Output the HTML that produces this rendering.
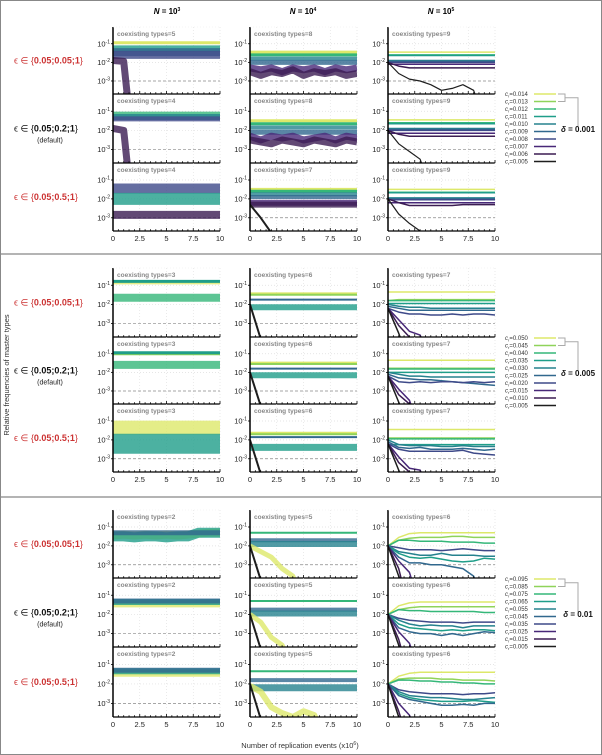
<!DOCTYPE html>
<html><head><meta charset="utf-8"><style>
html,body{margin:0;padding:0;background:#fff;}
svg{display:block;font-family:"Liberation Sans","DejaVu Sans",sans-serif;}
</style></head><body>
<svg id="fig" width="602" height="755" viewBox="0 0 602 755" xmlns="http://www.w3.org/2000/svg">
<rect x="0.5" y="0.5" width="601" height="754" fill="#fff" stroke="#888"/>
<line x1="0" y1="254" x2="602" y2="254" stroke="#888" stroke-width="1.2"/>
<line x1="0" y1="497" x2="602" y2="497" stroke="#888" stroke-width="1.2"/>
<text x="167" y="14" font-size="8" font-weight="bold" text-anchor="middle"><tspan font-style="italic">N</tspan> = 10<tspan font-size="5" dy="-3">3</tspan></text>
<text x="303" y="14" font-size="8" font-weight="bold" text-anchor="middle"><tspan font-style="italic">N</tspan> = 10<tspan font-size="5" dy="-3">4</tspan></text>
<text x="441" y="14" font-size="8" font-weight="bold" text-anchor="middle"><tspan font-style="italic">N</tspan> = 10<tspan font-size="5" dy="-3">5</tspan></text>
<text transform="translate(9,375) rotate(-90)" font-size="7.5" fill="#333" text-anchor="middle">Relative frequencies of master types</text>
<text x="300" y="748" font-size="7.5" fill="#333" text-anchor="middle">Number of replication events (x10<tspan font-size="5" dy="-3">6</tspan><tspan dy="3">)</tspan></text>
<g id="plots"></g>
</svg>
<script>
// ---- data (log10 of relative frequency; null = extinct) ----
const xTicks = [0, 2.5, 5, 7.5, 10];
const xTickLabels = ["0", "2.5", "5", "7.5", "10"];
const yTicks = [-1, -2, -3];
const yTickLabels = ["-1", "-2", "-3"];
const coexisting = [[5,8,9],[4,8,9],[4,7,9],[3,6,7],[3,6,7],[3,6,7],[2,5,6],[2,5,6],[2,5,6]];
const legend1 = ["0.014","0.013","0.012","0.011","0.010","0.009","0.008","0.007","0.006","0.005"];
const legend2 = ["0.050","0.045","0.040","0.035","0.030","0.025","0.020","0.015","0.010","0.005"];
const legend3 = ["0.095","0.085","0.075","0.065","0.055","0.045","0.035","0.025","0.015","0.005"];
const deltas = ["0.001","0.005","0.01"];
const rowLabels = ["0.05;0.05;1","0.05;0.2;1","0.05;0.5;1"];
const N=null;
function flat(v){return [v,v,v,v,v,v,v,v,v,v,v];}
// each series: [colorIndex, bandWidth, values at x=0..10]
const s1c1r1 = [[9,3,flat(-0.95)],[6,6,flat(-1.25)],[4,8,flat(-1.45)],[3,8,flat(-1.6)],[1,7,[-1.9,-1.95,N,N,N,N,N,N,N,N,N]]];
const s1c1r2 = [[7,5,flat(-1.15)],[5,6,flat(-1.3)],[3,5,flat(-1.4)],[1,7,[-1.9,-2.0,N,N,N,N,N,N,N,N,N]]];
const s1c1r3 = [[3,10,flat(-1.45)],[6,12,flat(-2.0)],[1,8,flat(-2.85)]];
const s1c2r1 = [[9,3,flat(-1.45)],[7,3,flat(-1.6)],[5,4,flat(-1.8)],[4,5,flat(-2.0)],[2,7,[-2.3,-2.4,-2.3,-2.5,-2.3,-2.4,-2.3,-2.5,-2.3,-2.4,-2.3]],[1,7,[-2.5,-2.7,-2.5,-2.6,-2.4,-2.7,-2.5,-2.6,-2.5,-2.7,-2.6]]];
const s1c2r2 = [[9,3,flat(-1.5)],[7,3,flat(-1.65)],[5,4,flat(-1.85)],[4,5,flat(-2.1)],[2,7,[-2.3,-2.5,-2.3,-2.4,-2.3,-2.5,-2.4,-2.3,-2.5,-2.3,-2.4]],[1,7,[-2.5,-2.6,-2.7,-2.5,-2.6,-2.7,-2.5,-2.6,-2.7,-2.5,-2.6]]];
const s1c2r3 = [[9,3,flat(-1.5)],[7,3,flat(-1.6)],[5,4,flat(-1.75)],[4,4,flat(-1.9)],[2,6,flat(-2.2)],[1,6,flat(-2.3)],[0,2,[-2.3,-3.0,-3.8,N,N,N,N,N,N,N,N]]];
const s1c3r1 = [[9,1.5,flat(-1.45)],[7,1.5,flat(-1.6)],[6,1.5,flat(-1.63)],[5,1.5,flat(-1.9)],[4,1.5,flat(-1.95)],[3,1.5,flat(-2.0)],[2,1.5,flat(-2.1)],[1,1.5,[-2,-2.2,-2.3,-2.3,-2.3,-2.3,-2.3,-2.3,-2.3,-2.3,-2.3]],[0,1.2,[-2,-2.6,-2.9,-3.0,-3.2,-3.5,-3.4,-3.2,-3.5,N,N]]];
const s1c3r2 = [[9,1.5,flat(-1.45)],[7,1.5,flat(-1.6)],[6,1.5,flat(-1.65)],[5,1.5,flat(-1.9)],[4,1.5,flat(-1.95)],[3,1.5,flat(-2.0)],[2,1.5,flat(-2.15)],[1,1.5,[-2,-2.2,-2.3,-2.3,-2.3,-2.3,-2.3,-2.3,-2.3,-2.3,-2.3]],[0,1.2,[-2,-2.7,-3.1,-3.5,N,N,N,N,N,N,N]]];
const s1c3r3 = [[9,1.5,flat(-1.5)],[7,1.5,flat(-1.65)],[6,1.5,flat(-1.68)],[5,1.5,flat(-1.95)],[4,1.5,flat(-2.0)],[3,1.5,flat(-2.05)],[2,1.5,flat(-2.2)],[1,1.5,[-2,-2.2,-2.35,-2.35,-2.35,-2.35,-2.35,-2.3,-2.3,-2.3,-2.3]],[0,1.2,[-2,-2.8,-3.3,-3.7,N,N,N,N,N,N,N]]];
const s2c1r1 = [[9,4,flat(-0.85)],[6,3,flat(-0.8)],[7,8,flat(-1.65)]];
const s2c1r2 = [[8,3,flat(-1.0)],[6,3,flat(-0.95)],[7,8,flat(-1.6)]];
const s2c1r3 = [[9,14,flat(-1.35)],[6,20,flat(-2.2)]];
const s2c2r1 = [[9,3,flat(-1.45)],[8,2,flat(-1.5)],[4,2,flat(-1.75)],[6,6,flat(-2.15)],[0,2,[-2,-3.8,N,N,N,N,N,N,N,N,N]]];
const s2c2r2 = [[9,3,flat(-1.5)],[8,2,flat(-1.55)],[4,2,flat(-1.8)],[6,6,flat(-2.15)],[0,2,[-2,-3.8,N,N,N,N,N,N,N,N,N]]];
const s2c2r3 = [[9,3,flat(-1.65)],[8,2,flat(-1.7)],[4,2,flat(-1.85)],[6,7,flat(-2.4)],[0,2,[-2,-3.8,N,N,N,N,N,N,N,N,N]]];
const s2c3r1 = [[9,1.5,flat(-1.35)],[8,1.5,[-1.8,-1.75,-1.75,-1.75,-1.75,-1.75,-1.75,-1.75,-1.75,-1.75,-1.75]],[7,1.5,flat(-1.8)],[6,1.5,flat(-1.95)],[5,1.5,[-2,-2.1,-2.15,-2.15,-2.2,-2.2,-2.2,-2.2,-2.2,-2.2,-2.2]],[4,1.5,[-2.1,-2.2,-2.3,-2.3,-2.3,-2.3,-2.3,-2.3,-2.3,-2.3,-2.3]],[3,1.5,[-2.2,-2.4,-2.5,-2.5,-2.55,-2.55,-2.5,-2.55,-2.5,-2.5,-2.55]],[2,1.5,[-2.2,-2.8,-3.4,-3.6,N,N,N,N,N,N,N]],[1,1.5,[-2.2,-3.1,-3.7,N,N,N,N,N,N,N,N]],[0,1.5,[-2.2,-3.5,N,N,N,N,N,N,N,N,N]]];
const s2c3r2 = [[9,1.5,flat(-1.35)],[8,1.5,flat(-1.78)],[7,1.5,flat(-1.82)],[6,1.5,flat(-2.0)],[5,1.5,[-2,-2.1,-2.2,-2.2,-2.25,-2.25,-2.25,-2.25,-2.25,-2.25,-2.25]],[4,1.5,[-2.1,-2.3,-2.35,-2.4,-2.4,-2.45,-2.5,-2.55,-2.6,-2.65,-2.7]],[3,1.5,[-2.2,-2.5,-2.55,-2.5,-2.55,-2.5,-2.5,-2.55,-2.5,-2.55,-2.5]],[2,1.5,[-2.2,-2.9,-3.5,N,N,N,N,N,N,N,N]],[1,1.5,[-2.2,-3.2,-3.7,N,N,N,N,N,N,N,N]],[0,1.5,[-2.2,-3.6,N,N,N,N,N,N,N,N,N]]];
const s2c3r3 = [[9,1.5,flat(-1.45)],[8,1.5,flat(-1.9)],[7,1.5,flat(-1.95)],[6,1.5,flat(-2.25)],[5,1.5,[-2,-2.25,-2.3,-2.3,-2.3,-2.35,-2.35,-2.3,-2.35,-2.35,-2.35]],[4,1.5,[-2.1,-2.4,-2.45,-2.4,-2.5,-2.5,-2.5,-2.45,-2.5,-2.55,-2.5]],[3,1.5,[-2.2,-2.5,-2.6,-2.6,-2.6,-2.6,-2.6,-2.55,-2.7,-2.75,-2.8]],[2,1.5,[-2.2,-2.9,-3.5,-3.6,N,N,N,N,N,N,N]],[1,1.5,[-2.2,-3.2,-3.7,N,N,N,N,N,N,N,N]],[0,1.5,[-2.2,-3.6,N,N,N,N,N,N,N,N,N]]];
const s3c1r1 = [[9,8,[-1.45,-1.4,-1.45,-1.4,-1.45,-1.4,-1.45,-1.4,-1.35,-1.3,-1.3]],[6,10,[-1.5,-1.5,-1.55,-1.5,-1.5,-1.55,-1.5,-1.5,-1.3,-1.3,-1.3]],[4,5,flat(-1.3)]];
const s3c1r2 = [[9,7,flat(-1.45)],[6,6,flat(-1.35)],[4,5,flat(-1.3)]];
const s3c1r3 = [[9,7,flat(-1.45)],[6,6,flat(-1.35)],[4,5,flat(-1.3)]];
const s3c2r1 = [[7,2,flat(-1.3)],[4,4,flat(-1.7)],[5,6,flat(-1.9)],[9,5,[-2.0,-2.3,-2.6,-3.2,-3.6,N,N,N,N,N,N]],[0,2,[-2,-3.8,N,N,N,N,N,N,N,N,N]]];
const s3c2r2 = [[7,2,flat(-1.3)],[4,4,flat(-1.75)],[5,6,flat(-1.95)],[9,5,[-2.0,-2.4,-3.2,-3.6,N,N,N,N,N,N,N]],[0,2,[-2,-3.8,N,N,N,N,N,N,N,N,N]]];
const s3c2r3 = [[7,2,flat(-1.35)],[4,4,flat(-1.8)],[5,7,flat(-2.2)],[9,6,[-2.1,-2.4,-3.2,-3.5,-3.7,-3.4,-3.6,N,N,N,N]],[0,2,[-2,-3.8,N,N,N,N,N,N,N,N,N]]];
const s3c3r1 = [[9,1.5,[-2,-1.55,-1.35,-1.3,-1.3,-1.3,-1.3,-1.3,-1.3,-1.3,-1.3]],[8,1.5,[-2,-1.7,-1.6,-1.55,-1.55,-1.55,-1.5,-1.5,-1.55,-1.55,-1.55]],[7,1.5,[-2,-1.7,-1.7,-1.75,-1.75,-1.75,-1.8,-1.8,-1.8,-1.85,-1.85]],[3,1.5,[-2,-2.1,-2.2,-2.2,-2.2,-2.25,-2.2,-2.15,-2.2,-2.25,-2.25]],[5,1.5,[-2,-2.3,-2.4,-2.5,-2.5,-2.4,-2.5,-2.5,-2.5,-2.55,-2.55]],[6,1.5,[-2,-2.4,-2.6,-2.65,-2.6,-2.7,-2.8,-2.85,-2.8,-2.65,-2.7]],[4,1.5,[-2,-2.6,-2.9,-2.9,-3.0,-3.0,-3.1,-3.2,-3.6,N,N]],[2,1.5,[-2,-2.8,-3.4,N,N,N,N,N,N,N,N]],[1,1.5,[-2,-3.2,N,N,N,N,N,N,N,N,N]],[0,1.5,[-2,-3.6,N,N,N,N,N,N,N,N,N]]];
const s3c3r2 = [[9,1.5,[-2,-1.55,-1.4,-1.35,-1.35,-1.35,-1.35,-1.35,-1.35,-1.35,-1.35]],[8,1.5,[-2,-1.75,-1.65,-1.6,-1.6,-1.6,-1.6,-1.6,-1.6,-1.6,-1.6]],[7,1.5,[-2,-1.75,-1.8,-1.8,-1.85,-1.85,-1.85,-1.85,-1.85,-1.9,-1.9]],[3,1.5,[-2,-2.2,-2.3,-2.35,-2.4,-2.4,-2.4,-2.45,-2.4,-2.4,-2.4]],[5,1.5,[-2,-2.3,-2.5,-2.6,-2.55,-2.6,-2.6,-2.7,-2.6,-2.6,-2.6]],[6,1.5,[-2,-2.5,-2.7,-2.75,-2.8,-2.85,-2.8,-2.85,-2.8,-2.8,-2.85]],[4,1.5,[-2,-2.7,-2.9,-3.0,-3.0,-3.1,-3.0,-3.1,-3.0,-2.9,-2.95]],[2,1.5,[-2,-2.9,-3.5,N,N,N,N,N,N,N,N]],[1,1.5,[-2,-3.3,N,N,N,N,N,N,N,N,N]],[0,1.5,[-2,-3.6,N,N,N,N,N,N,N,N,N]]];
const s3c3r3 = [[9,1.5,[-2,-1.6,-1.45,-1.4,-1.4,-1.4,-1.4,-1.4,-1.4,-1.4,-1.4]],[8,1.5,[-2,-1.75,-1.7,-1.7,-1.7,-1.75,-1.75,-1.8,-1.8,-1.8,-1.85]],[7,1.5,[-2,-1.8,-1.8,-1.85,-1.85,-1.9,-1.9,-1.95,-1.95,-2.0,-2.0]],[3,1.5,[-2,-2.3,-2.4,-2.45,-2.5,-2.5,-2.5,-2.55,-2.5,-2.5,-2.45]],[5,1.5,[-2,-2.4,-2.6,-2.65,-2.7,-2.7,-2.75,-2.8,-2.8,-2.75,-2.7]],[6,1.5,[-2,-2.5,-2.7,-2.8,-2.85,-2.9,-2.9,-2.9,-2.85,-2.9,-2.95]],[4,1.5,[-2,-2.6,-2.8,-2.9,-3.0,-3.1,-3.1,-3.05,-3.1,-3.0,-3.0]],[2,1.5,[-2,-3.0,-3.6,N,N,N,N,N,N,N,N]],[1,1.5,[-2,-3.4,N,N,N,N,N,N,N,N,N]],[0,1.5,[-2,-3.7,N,N,N,N,N,N,N,N,N]]];
const panelData = [
 [[s1c1r1,s1c2r1,s1c3r1],[s1c1r2,s1c2r2,s1c3r2],[s1c1r3,s1c2r3,s1c3r3]],
 [[s2c1r1,s2c2r1,s2c3r1],[s2c1r2,s2c2r2,s2c3r2],[s2c1r3,s2c2r3,s2c3r3]],
 [[s3c1r1,s3c2r1,s3c3r1],[s3c1r2,s3c2r2,s3c3r2],[s3c1r3,s3c2r3,s3c3r3]]];

// ---- layout ----
const colors = ['#1e1e1e','#3b1c52','#482878','#3e4a89','#31688e','#26828e','#1f9e89','#35b779','#8fd35a','#dde86a'];
const colX = [113,250,388], panelW = 107;
const sectionTops = [[27,94,163,231],[268,337,404,472],[510,578,647,717]];
const legendTop = [94,338,579];
const legends = [legend1,legend2,legend3];
const yMax = -0.1, yMin = -3.7;
const NS = 'http://www.w3.org/2000/svg';
const root = document.getElementById('plots');
function el(tag, attrs, parent){const e=document.createElementNS(NS,tag);for(const k in attrs)e.setAttribute(k,attrs[k]);(parent||root).appendChild(e);return e;}
function xScale(x0,v){return x0 + v/10*panelW;}
function yScale(t,b,v){return t + (yMax - v)/(yMax - yMin)*(b-t);}

for(let s=0;s<3;s++){
 const tops = sectionTops[s];
 for(let r=0;r<3;r++){
  const t=tops[r], b=tops[r+1];
  const red = r!==1;
  const lab = el('text',{x:14,y:(t+b)/2+3,'font-size':'9',fill:red?'#cc3333':'#111'});
  
  
  lab.innerHTML='ϵ ∈ {<tspan font-weight="bold">'+rowLabels[r]+'</tspan>}';
  if(r===1){const d=el('text',{x:50,y:(t+b)/2+14,'font-size':'7',fill:'#222','text-anchor':'middle'});
   
   
   d.textContent='(default)';}
  for(let c=0;c<3;c++){
   const x0=colX[c];
   const g=el('g',{});
   
   
   for(const xt of xTicks.slice(1)){el('line',{x1:xScale(x0,xt),x2:xScale(x0,xt),y1:t,y2:b,stroke:'#ddd','stroke-width':0.6,'stroke-dasharray':'1,2'},g);}
   for(const yt of yTicks){el('line',{x1:x0,x2:x0+panelW,y1:yScale(t,b,yt),y2:yScale(t,b,yt),stroke:yt===-3?'#888':'#ddd','stroke-width':0.7,'stroke-dasharray':yt===-3?'3,2':'1,2'},g);}
   const cp=el('clipPath',{id:'cp'+s+r+c},g);
   el('rect',{x:x0,y:t,width:panelW,height:b-t},cp);
   const sg=el('g',{'clip-path':'url(#cp'+s+r+c+')'},g);
   const series=panelData[s][r][c];
   series.forEach((ser,i)=>{
    const [ci,bw,vals]=ser;
    let d='',pen=false;
    vals.forEach((v,k)=>{
     if(v===null){ if(pen){d+=' L'+xScale(x0,k-0.6).toFixed(1)+','+(b+8);} pen=false; return;}
     d+=(pen?' L':' M')+xScale(x0,k).toFixed(1)+','+yScale(t,b,v).toFixed(1); pen=true;});
    const p=el('path',{d:d,fill:'none',stroke:colors[ci],'stroke-width':bw,'stroke-linejoin':'round','stroke-linecap':'butt',opacity:bw>3?0.8:1},sg);
    
    
   });
   el('line',{x1:x0,x2:x0,y1:t,y2:b,stroke:'#000','stroke-width':1.5},g);
   el('line',{x1:x0,x2:x0+panelW,y1:b,y2:b,stroke:'#000','stroke-width':1.2},g);
   if(r===0) el('line',{x1:x0,x2:x0+panelW,y1:t,y2:t,stroke:'#eee','stroke-width':0.6,'stroke-dasharray':'1,2'},g);
   for(let k=0;k<=20;k++){const xx=x0+k/20*panelW;el('line',{x1:xx,x2:xx,y1:b,y2:b-(k%5===0?3:1.8),stroke:'#000','stroke-width':0.8},g);}
   yTicks.forEach((yt,i)=>{const yy=yScale(t,b,yt);
    el('line',{x1:x0-2,x2:x0,y1:yy,y2:yy,stroke:'#000','stroke-width':0.8},g);
    const tl=el('text',{x:x0-3,y:yy+2.5,'font-size':'7.5',fill:'#222','text-anchor':'end'},g);
    
    
    tl.innerHTML='10<tspan font-size="5" dy="-3">'+yTickLabels[i]+'</tspan>';});
   const ct=el('text',{x:x0+4,y:t+9,'font-size':'6.5','font-weight':'bold',fill:'#888'},g);
   
   
   ct.textContent='coexisting types='+coexisting[s*3+r][c];
   if(r===2){xTicks.forEach((xt,i)=>{const xl=el('text',{x:xScale(x0,xt),y:b+10,'font-size':'7.5',fill:'#222','text-anchor':'middle'},g);
    
    
    xl.textContent=xTickLabels[i];});}
  }
 }
 const lg=el('g',{});
 
 
 const ly0=legendTop[s], step=7.5;
 legends[s].forEach((lv,i)=>{const y=ly0+i*step;
  const tx=el('text',{x:505,y:y+2,'font-size':'6',fill:'#333'},lg);
  
  
  tx.innerHTML='<tspan font-style="italic">c</tspan><tspan font-size="4" dy="1.5">r</tspan><tspan dy="-1.5">=' + lv + '</tspan>';
  el('line',{x1:534,x2:556,y1:y,y2:y,stroke:colors[9-i],'stroke-width':1.5},lg);});
 el('path',{d:'M558,'+ly0+' H565 V'+(ly0+step)+' H558 M565,'+(ly0+step/2)+' H578 V'+(ly0+33),fill:'none',stroke:'#aaa','stroke-width':1},lg);
 const dl=el('text',{x:578,y:ly0+38,'font-size':'8','font-weight':'bold',fill:'#111','text-anchor':'middle'},lg);
 
 
 dl.innerHTML='<tspan font-style="italic">δ</tspan> = '+deltas[s];
}
</script>
</body></html>
